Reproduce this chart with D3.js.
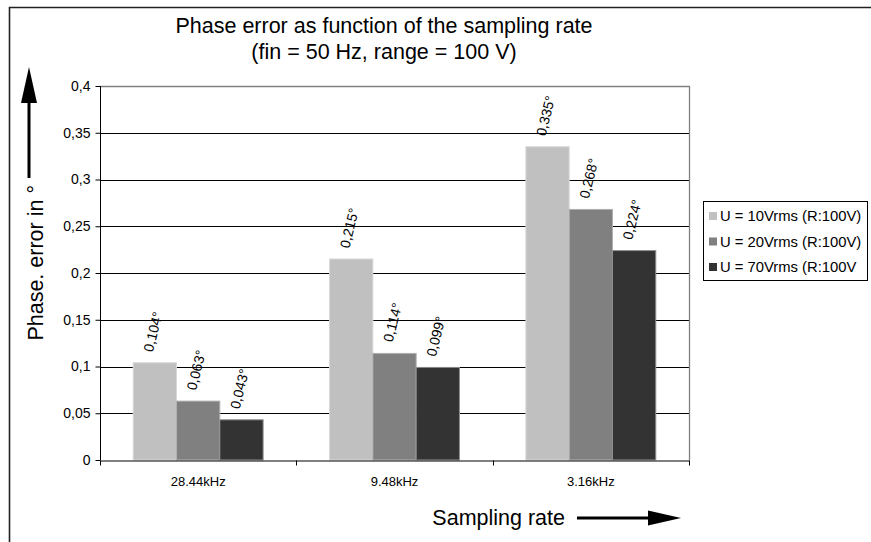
<!DOCTYPE html>
<html>
<head>
<meta charset="utf-8">
<script src="https://cdn.jsdelivr.net/npm/d3@7"></script>
<style>
  html, body { margin: 0; padding: 0; background: #fff; overflow: hidden; }
  svg { display: block; font-family: "Liberation Sans", Arial, sans-serif; }
</style>
</head>
<body>
<svg id="chart" width="871" height="542"></svg>
<script>
// ---- data ----
const categories = ["28.44kHz", "9.48kHz", "3.16kHz"];
const seriesNames = ["U = 10Vrms (R:100V)", "U = 20Vrms (R:100V)", "U = 70Vrms (R:100V"];
const values10 = [0.104, 0.215, 0.335];
const values20 = [0.063, 0.114, 0.268];
const values70 = [0.043, 0.099, 0.224];
const yTicks = [0, 0.05, 0.1, 0.15, 0.2, 0.25, 0.3, 0.35, 0.4];
const seriesColors = ["#c0c0c0", "#808080", "#333333"];
const titleLines = ["Phase error as function of the sampling rate", "(fin = 50 Hz, range = 100 V)"];
const yTitle = "Phase. error in °";
const xTitle = "Sampling rate";

const seriesValues = [values10, values20, values70];

const svg = d3.select("#chart");
const W = 871, H = 542;
const plot = { left: 100, right: 689, top: 86, bottom: 460 };

svg.append("rect").attr("width", W).attr("height", H).attr("fill", "#fff");
// outer frame (left and top edges visible; it continues beyond the picture)
svg.append("path").attr("d", `M9.5,${H}V7.5H${W}`)
  .attr("fill", "none").attr("stroke", "#222").attr("stroke-width", 1.6);

const x0 = d3.scaleBand().domain(categories).range([plot.left, plot.right]).padding(0);
const x1 = d3.scaleBand().domain(seriesNames).range([0, x0.bandwidth()]).paddingInner(0).paddingOuter(0.767);
const y = d3.scaleLinear().domain([0, 0.4]).range([plot.bottom, plot.top]);

const fmt = d => String(d).replace(".", ",");

// gridlines
svg.append("g").selectAll("line").data(yTicks.filter(t => t > 0 && t < 0.4)).join("line")
  .attr("x1", plot.left).attr("x2", plot.right)
  .attr("y1", d => Math.round(y(d)) + 0.5).attr("y2", d => Math.round(y(d)) + 0.5)
  .attr("stroke", "#000").attr("stroke-width", 1);

// plot border top/right (gray)
svg.append("path")
  .attr("d", `M${plot.left},${plot.top + 0.5}H${plot.right + 0.5}V${plot.bottom}`)
  .attr("fill", "none").attr("stroke", "#808080").attr("stroke-width", 1.3);

// bars
const rows = [];
categories.forEach((c, i) => seriesNames.forEach((s, j) => rows.push({ c, s, j, v: seriesValues[j][i] })));

svg.append("g").selectAll("rect").data(rows).join("rect")
  .attr("x", d => x0(d.c) + x1(d.s))
  .attr("y", d => y(d.v))
  .attr("width", x1.bandwidth())
  .attr("height", d => y(0) - y(d.v))
  .attr("fill", d => seriesColors[d.j])
  .attr("stroke", d => d.j === 0 ? "#d8d8d8" : (d.j === 1 ? "#b0b0b0" : "#909090"))
  .attr("stroke-width", 1);

// value labels
svg.append("g").selectAll("text").data(rows).join("text")
  .attr("transform", d => `translate(${x0(d.c) + x1(d.s) + x1.bandwidth() / 2 - 2},${y(d.v) - 31}) rotate(-76)`)
  .attr("text-anchor", "middle")
  .attr("dominant-baseline", "central")
  .attr("font-size", 14)
  .attr("fill", "#000")
  .text(d => fmt(d.v) + "°");

// y axis
const yAxis = svg.append("g").attr("transform", `translate(${plot.left + 0.5},0)`)
  .call(d3.axisLeft(y).tickValues(yTicks).tickFormat(fmt).tickSize(5).tickPadding(5));
yAxis.select(".domain").attr("stroke", "#000").attr("d", `M0,${plot.top}V${plot.bottom}`);
yAxis.selectAll(".tick line").attr("stroke", "#000");
yAxis.selectAll("text").attr("font-size", 14).attr("font-family", "Liberation Sans, Arial, sans-serif").attr("fill", "#000");

// x axis
const xAxis = svg.append("g").attr("transform", `translate(0,${plot.bottom + 0.5})`)
  .call(d3.axisBottom(x0).tickSizeInner(0).tickSizeOuter(0).tickPadding(16));
xAxis.select(".domain").attr("stroke", "#000");
xAxis.selectAll("text").attr("font-size", 13).attr("font-family", "Liberation Sans, Arial, sans-serif").attr("fill", "#000");
const bounds = categories.map(c => x0(c)).concat([x0(categories[categories.length - 1]) + x0.bandwidth()]);
xAxis.selectAll("line.bt").data(bounds).join("line").attr("class", "bt")
  .attr("x1", d => Math.round(d) + 0.5).attr("x2", d => Math.round(d) + 0.5)
  .attr("y1", 0).attr("y2", 5).attr("stroke", "#000");

// title
svg.append("text").attr("x", 384).attr("y", 33).attr("text-anchor", "middle")
  .attr("font-size", 21.5).text(titleLines[0]);
svg.append("text").attr("x", 384).attr("y", 59).attr("text-anchor", "middle")
  .attr("font-size", 21.5).text(titleLines[1]);

// y title + arrow
svg.append("text").attr("transform", "translate(43,185) rotate(-90)")
  .attr("text-anchor", "end").attr("font-size", 21.5).text(yTitle);
svg.append("line").attr("x1", 29).attr("x2", 29).attr("y1", 178).attr("y2", 100)
  .attr("stroke", "#000").attr("stroke-width", 3);
svg.append("path").attr("d", "M21,103L37,103L29,67Z").attr("fill", "#000");

// x title + arrow
svg.append("text").attr("x", 565).attr("y", 525).attr("text-anchor", "end")
  .attr("font-size", 21.5).text(xTitle);
svg.append("line").attr("x1", 577).attr("x2", 650).attr("y1", 518).attr("y2", 518)
  .attr("stroke", "#000").attr("stroke-width", 3);
svg.append("path").attr("d", "M648,510.5L648,525.5L681,518Z").attr("fill", "#000");

// legend
const lg = svg.append("g");
lg.append("rect").attr("x", 703.5).attr("y", 201.5).attr("width", 164).attr("height", 79)
  .attr("fill", "#fff").attr("stroke", "#000").attr("stroke-width", 1);
const legendY = d3.scalePoint().domain(seriesNames).range([216, 267]);
const items = lg.selectAll("g.item").data(seriesNames).join("g").attr("class", "item")
  .attr("transform", d => `translate(709,${legendY(d)})`);
items.append("rect").attr("x", 0).attr("y", -4).attr("width", 8).attr("height", 8)
  .attr("fill", (d, i) => seriesColors[i]);
items.append("text").attr("x", 11).attr("y", 0).attr("dominant-baseline", "central")
  .attr("font-size", 14.8).text(d => d);
</script>
</body>
</html>
